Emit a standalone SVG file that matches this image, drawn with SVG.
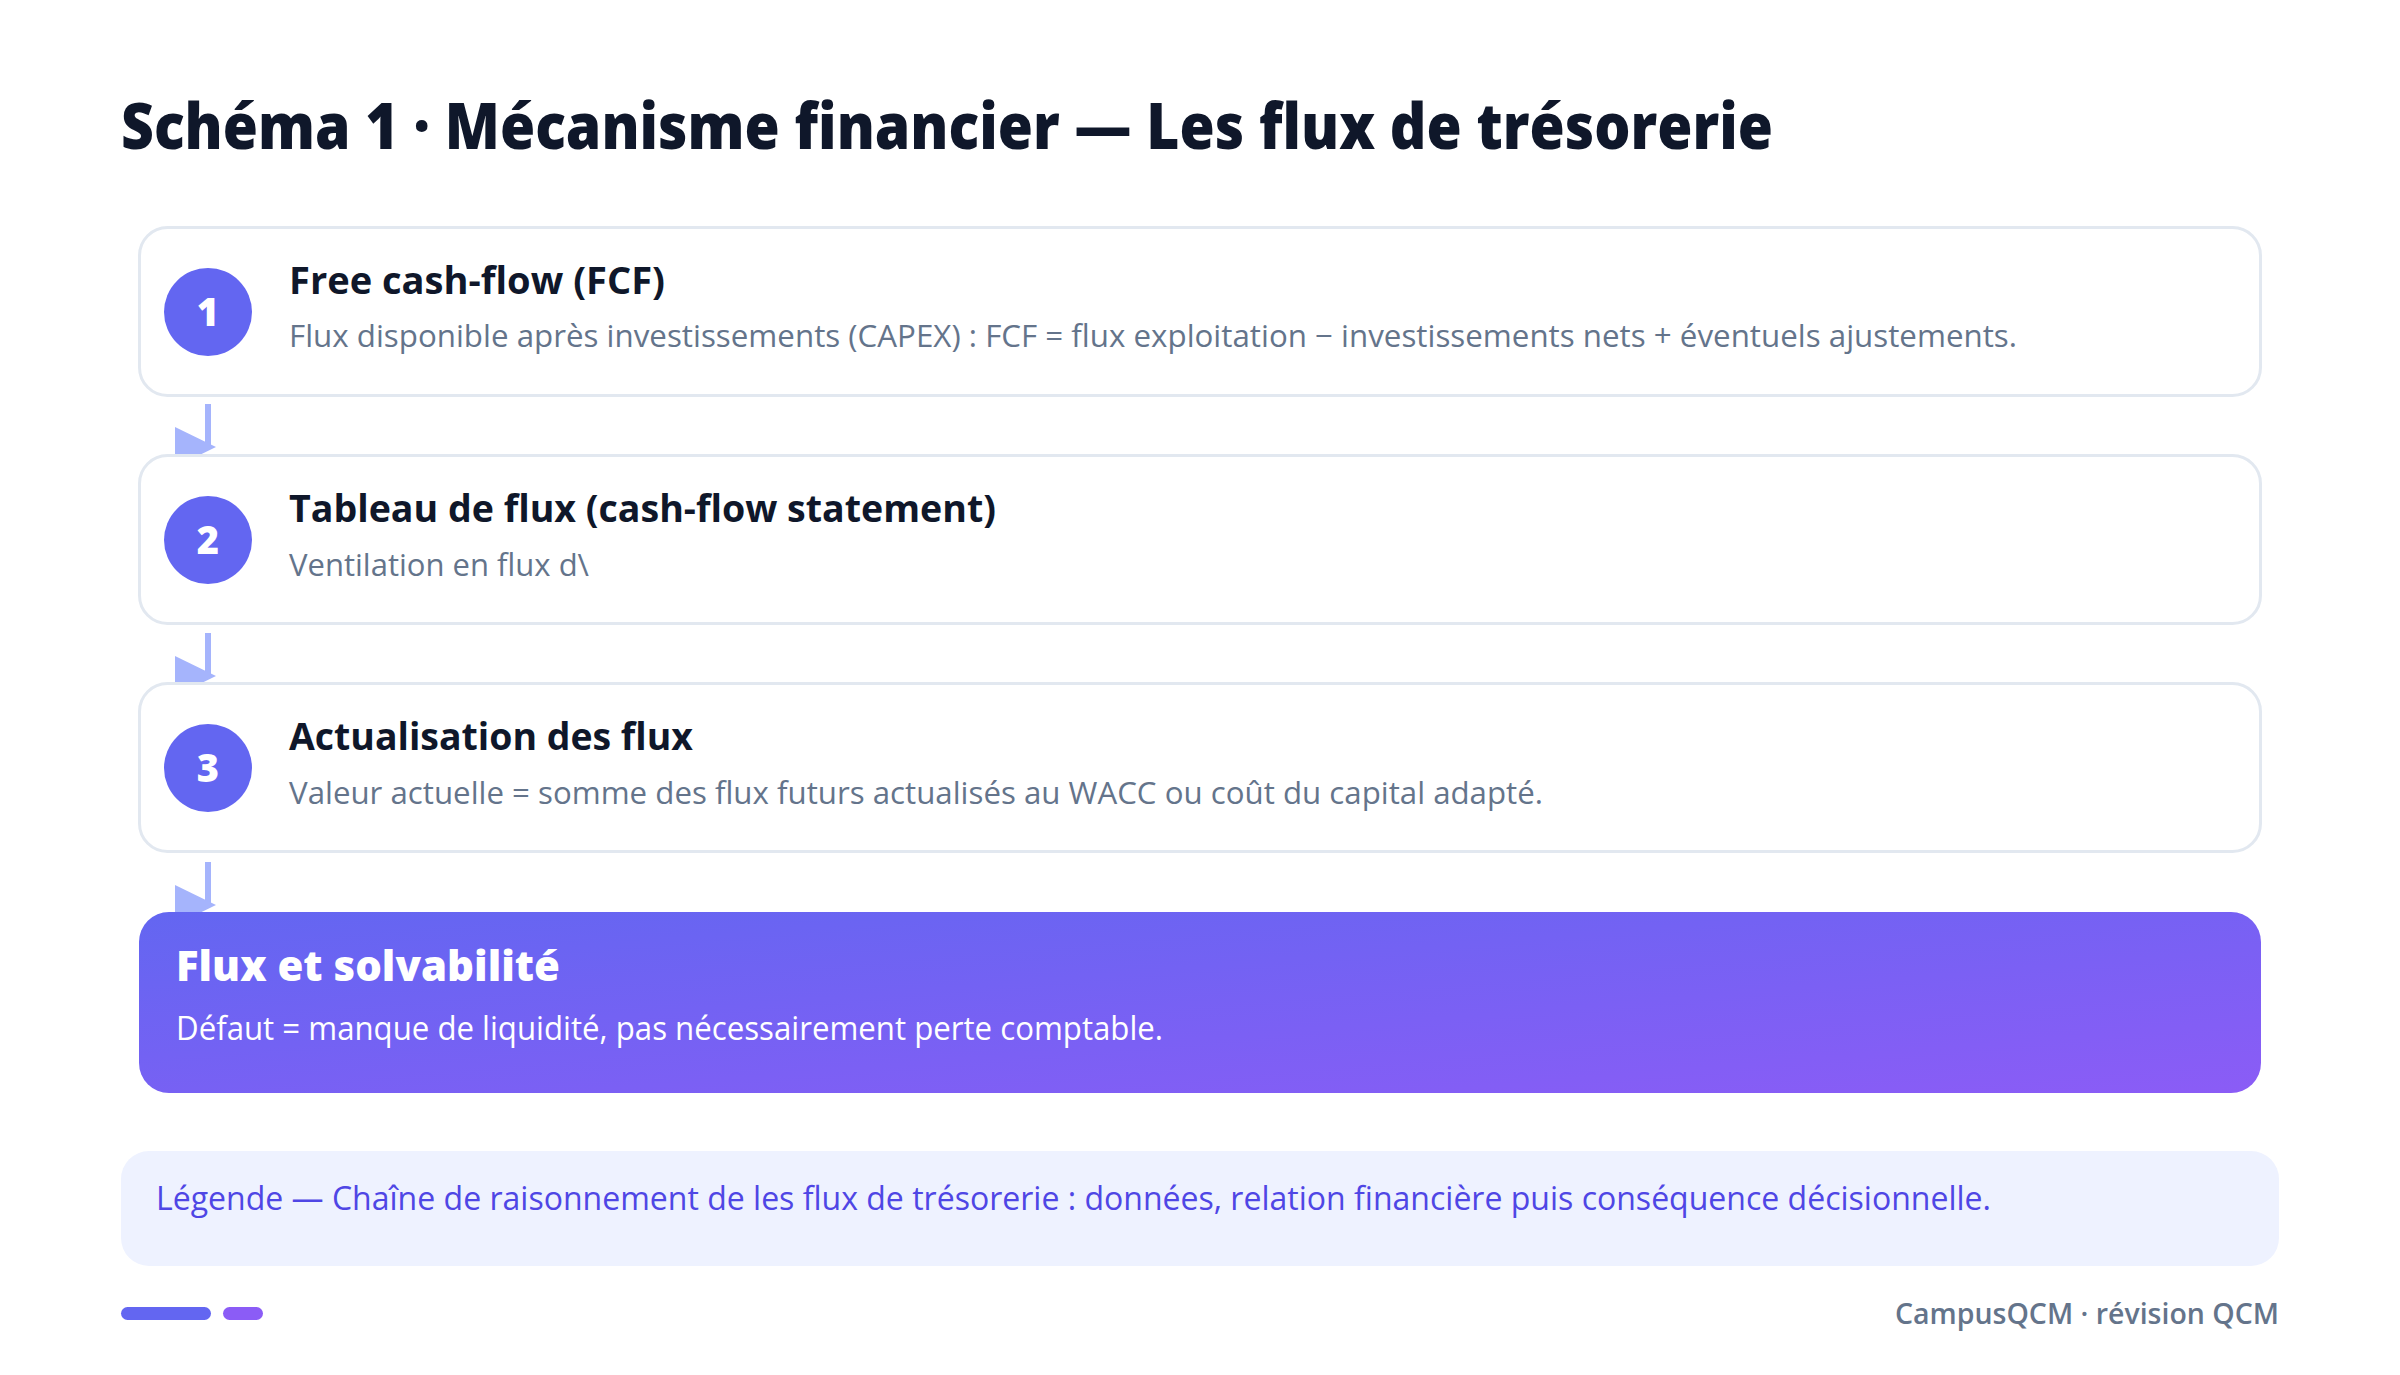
<svg xmlns="http://www.w3.org/2000/svg" width="2400" height="1375" viewBox="0 0 2400 1375">
  <defs>
    <style>
      .title { font-family: "Open Sans", "Liberation Sans", sans-serif; font-weight: 800; font-size: 63px; fill: #0f172a; }
      .card { fill: #ffffff; stroke: #e2e8f0; stroke-width: 3; }
      .badge { fill: #6366f1; }
      .num { font-family: "Open Sans", "Liberation Sans", sans-serif; font-weight: 800; font-size: 38px; fill: #ffffff; text-anchor: middle; }
      .head { font-family: "Open Sans", "Liberation Sans", sans-serif; font-weight: 700; font-size: 38px; fill: #0f172a; }
      .desc { font-family: "Open Sans", "Liberation Sans", sans-serif; font-weight: 400; font-size: 31px; fill: #64748b; }
      .conn-line { stroke: #a5b4fc; stroke-width: 6; fill: none; }
      .conn-head { fill: #a5b4fc; }
      .fhead { font-family: "Open Sans", "Liberation Sans", sans-serif; font-weight: 800; font-size: 42px; fill: #ffffff; }
      .fdesc { font-family: "Open Sans", "Liberation Sans", sans-serif; font-weight: 400; font-size: 32px; fill: #ffffff; }
      .legend { font-family: "Open Sans", "Liberation Sans", sans-serif; font-weight: 400; font-size: 32px; fill: #4f46e5; }
      .footer { font-family: "Open Sans", "Liberation Sans", sans-serif; font-weight: 600; font-size: 29px; fill: #64748b; text-anchor: end; }
    </style>
    <linearGradient id="finalGrad" x1="0" y1="0" x2="1" y2="1">
      <stop offset="0" stop-color="#6366f1"/>
      <stop offset="1" stop-color="#8b5cf6"/>
    </linearGradient>
  </defs>

  <rect x="0" y="0" width="2400" height="1375" fill="#ffffff"/>

  <text class="title" x="121" y="149" textLength="1652" lengthAdjust="spacingAndGlyphs">Schéma 1 · Mécanisme financier — Les flux de trésorerie</text>

  <g id="connectors">
    <line class="conn-line" x1="208" y1="404" x2="208" y2="447"/>
    <polygon class="conn-head" points="175,427 216,447 175,467"/>
    <line class="conn-line" x1="208" y1="633" x2="208" y2="676"/>
    <polygon class="conn-head" points="175,656 216,676 175,696"/>
    <line class="conn-line" x1="208" y1="862" x2="208" y2="905"/>
    <polygon class="conn-head" points="175,885 216,905 175,925"/>
  </g>

  <g id="step1">
    <rect class="card" x="139.5" y="227.5" width="2121" height="168" rx="28"/>
    <circle class="badge" cx="208" cy="312" r="44"/>
    <text class="num" x="208" y="326">1</text>
    <text class="head" x="289" y="294" textLength="376" lengthAdjust="spacingAndGlyphs">Free cash-flow (FCF)</text>
    <text class="desc" x="289" y="347" textLength="1728" lengthAdjust="spacingAndGlyphs">Flux disponible après investissements (CAPEX) : FCF = flux exploitation − investissements nets + éventuels ajustements.</text>
  </g>

  <g id="step2">
    <rect class="card" x="139.5" y="455.5" width="2121" height="168" rx="28"/>
    <circle class="badge" cx="208" cy="540" r="44"/>
    <text class="num" x="208" y="554">2</text>
    <text class="head" x="289" y="522" textLength="707" lengthAdjust="spacingAndGlyphs">Tableau de flux (cash-flow statement)</text>
    <text class="desc" x="289" y="576" textLength="300" lengthAdjust="spacingAndGlyphs">Ventilation en flux d\</text>
  </g>

  <g id="step3">
    <rect class="card" x="139.5" y="683.5" width="2121" height="168" rx="28"/>
    <circle class="badge" cx="208" cy="768" r="44"/>
    <text class="num" x="208" y="782">3</text>
    <text class="head" x="289" y="750" textLength="404" lengthAdjust="spacingAndGlyphs">Actualisation des flux</text>
    <text class="desc" x="289" y="804" textLength="1254" lengthAdjust="spacingAndGlyphs">Valeur actuelle = somme des flux futurs actualisés au WACC ou coût du capital adapté.</text>
  </g>

  <g id="result">
    <rect x="139" y="912" width="2122" height="181" rx="30" fill="url(#finalGrad)"/>
    <text class="fhead" x="176" y="981" textLength="384" lengthAdjust="spacingAndGlyphs">Flux et solvabilité</text>
    <text class="fdesc" x="176" y="1040" textLength="987" lengthAdjust="spacingAndGlyphs">Défaut = manque de liquidité, pas nécessairement perte comptable.</text>
  </g>

  <g id="legend">
    <rect x="121" y="1151" width="2158" height="115" rx="28" fill="#eef2ff"/>
    <text class="legend" x="156" y="1210" textLength="1835" lengthAdjust="spacingAndGlyphs">Légende — Chaîne de raisonnement de les flux de trésorerie : données, relation financière puis conséquence décisionnelle.</text>
  </g>

  <g id="footer">
    <rect x="121" y="1307" width="90" height="13" rx="6.5" fill="#6366f1"/>
    <rect x="223" y="1307" width="40" height="13" rx="6.5" fill="#8b5cf6"/>
    <text class="footer" x="2279" y="1324" textLength="384" lengthAdjust="spacingAndGlyphs">CampusQCM · révision QCM</text>
  </g>
</svg>
